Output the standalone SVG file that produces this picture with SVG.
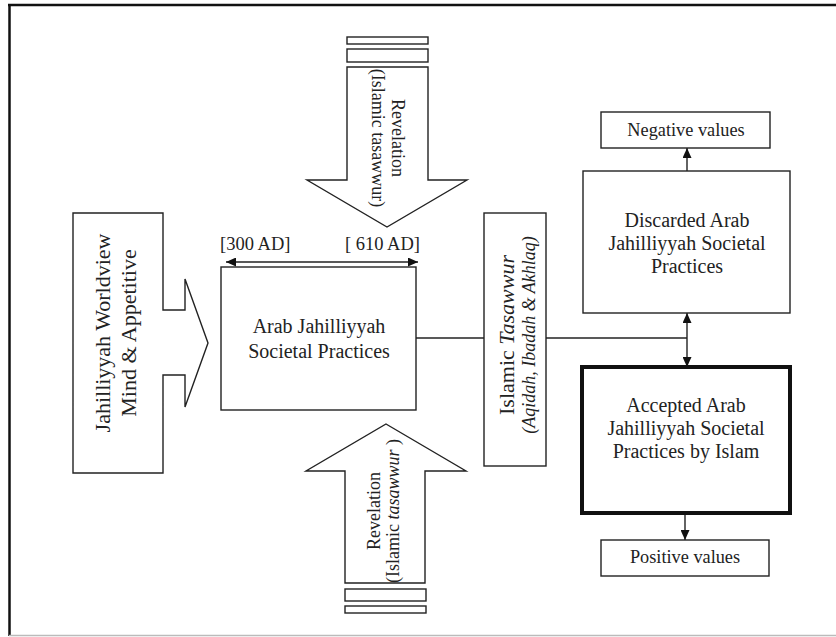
<svg xmlns="http://www.w3.org/2000/svg" width="836" height="637" viewBox="0 0 836 637">
<style>
  .shape{fill:#fff;stroke:#222;stroke-width:1.4}
  .thick{fill:#fff;stroke:#111;stroke-width:4}
  .ln{fill:none;stroke:#222;stroke-width:1.4}
  text{font-family:"Liberation Serif","Times New Roman",serif;fill:#222}
  .it{font-style:italic}
</style>
<defs>
  <marker id="ah" markerWidth="10" markerHeight="9" refX="10" refY="4.5" orient="auto-start-reverse" markerUnits="userSpaceOnUse">
    <path d="M0,0 L10,4.5 L0,9 z" fill="#111"/>
  </marker>
</defs>
<rect width="836" height="637" fill="#fff"/>
<g id="frame">
  <line x1="9.5" y1="4" x2="9.5" y2="636" stroke="#111" stroke-width="2.5"/>
  <line x1="8" y1="5" x2="836" y2="5" stroke="#111" stroke-width="2.5"/>
  <line x1="9" y1="635.5" x2="836" y2="635.5" stroke="#bbb" stroke-width="1.5"/>
</g>
<g id="connectors">
  <line class="ln" x1="416" y1="338" x2="484" y2="338"/>
  <line class="ln" x1="546" y1="338" x2="687" y2="338"/>
  <line class="ln" x1="226" y1="262" x2="418" y2="262" marker-start="url(#ah)" marker-end="url(#ah)"/>
  <line class="ln" x1="687" y1="313" x2="687" y2="367" marker-start="url(#ah)" marker-end="url(#ah)"/>
  <line class="ln" x1="687" y1="171" x2="687" y2="148" marker-end="url(#ah)"/>
  <line class="ln" x1="685" y1="513" x2="685" y2="540" marker-end="url(#ah)"/>
</g>
<g id="revelation-top">
  <rect class="shape" x="347" y="37" width="81" height="7"/>
  <rect class="shape" x="347" y="49" width="81" height="13"/>
  <polygon class="shape" points="347,67 428,67 428,180 467,180 387,227 307,180 347,180"/>
  <g transform="translate(392,138) rotate(90)" font-size="18" text-anchor="middle">
    <text x="0" y="0">Revelation</text>
    <text x="0" y="20">(Islamic tasawwur)</text>
  </g>
</g>
<g id="revelation-bottom">
  <polygon class="shape" points="386,424 466,471 425,471 425,583 345,583 345,471 306,471"/>
  <rect class="shape" x="345" y="589" width="81" height="12"/>
  <rect class="shape" x="345" y="606" width="81" height="7"/>
  <g transform="translate(380,511) rotate(-90)" font-size="18" text-anchor="middle">
    <text x="0" y="0">Revelation</text>
    <text x="0" y="19">(Islamic <tspan class="it">tasawwur</tspan> )</text>
  </g>
</g>
<g id="jahilliyyah-worldview">
  <polygon class="shape" points="73,213 163,213 163,310 185,310 185,279 208,343 185,407 185,375 163,375 163,473 73,473"/>
  <g transform="translate(110,333) rotate(-90)" font-size="22" text-anchor="middle">
    <text x="0" y="0">Jahilliyyah Worldview</text>
    <text x="0" y="26">Mind &amp; Appetitive</text>
  </g>
</g>
<g id="period">
  <text x="220" y="250" font-size="18.5">[300 AD]</text>
  <text x="420" y="250" font-size="18.5" text-anchor="end">[ 610 AD]</text>
</g>
<g id="arab-practices">
  <rect class="shape" x="221" y="267" width="195" height="143"/>
  <text x="319" y="333" font-size="20" text-anchor="middle">Arab Jahilliyyah</text>
  <text x="319" y="358" font-size="20" text-anchor="middle">Societal Practices</text>
</g>
<g id="islamic-tasawwur">
  <rect class="shape" x="484" y="213" width="62" height="253"/>
  <g transform="translate(514,335) rotate(-90)" text-anchor="middle">
    <text x="0" y="0" font-size="22">Islamic <tspan class="it">Tasawwur</tspan></text>
    <text x="0" y="21" font-size="18" class="it">(Aqidah, Ibadah &amp; Akhlaq)</text>
  </g>
</g>
<g id="negative-values">
  <rect class="shape" x="601" y="112" width="169" height="36"/>
  <text x="686" y="136" font-size="18.3" text-anchor="middle">Negative values</text>
</g>
<g id="discarded">
  <rect class="shape" x="583" y="171" width="207" height="142"/>
  <text x="687" y="227" font-size="20" text-anchor="middle">Discarded Arab</text>
  <text x="687" y="250" font-size="20" text-anchor="middle">Jahilliyyah Societal</text>
  <text x="687" y="273" font-size="20" text-anchor="middle">Practices</text>
</g>
<g id="accepted">
  <rect class="thick" x="582" y="367" width="208" height="146"/>
  <text x="686" y="412" font-size="20" text-anchor="middle">Accepted Arab</text>
  <text x="686" y="435" font-size="20" text-anchor="middle">Jahilliyyah Societal</text>
  <text x="686" y="458" font-size="20" text-anchor="middle">Practices by Islam</text>
</g>
<g id="positive-values">
  <rect class="shape" x="601" y="540" width="168" height="36"/>
  <text x="685" y="563" font-size="18.3" text-anchor="middle">Positive values</text>
</g>
</svg>
